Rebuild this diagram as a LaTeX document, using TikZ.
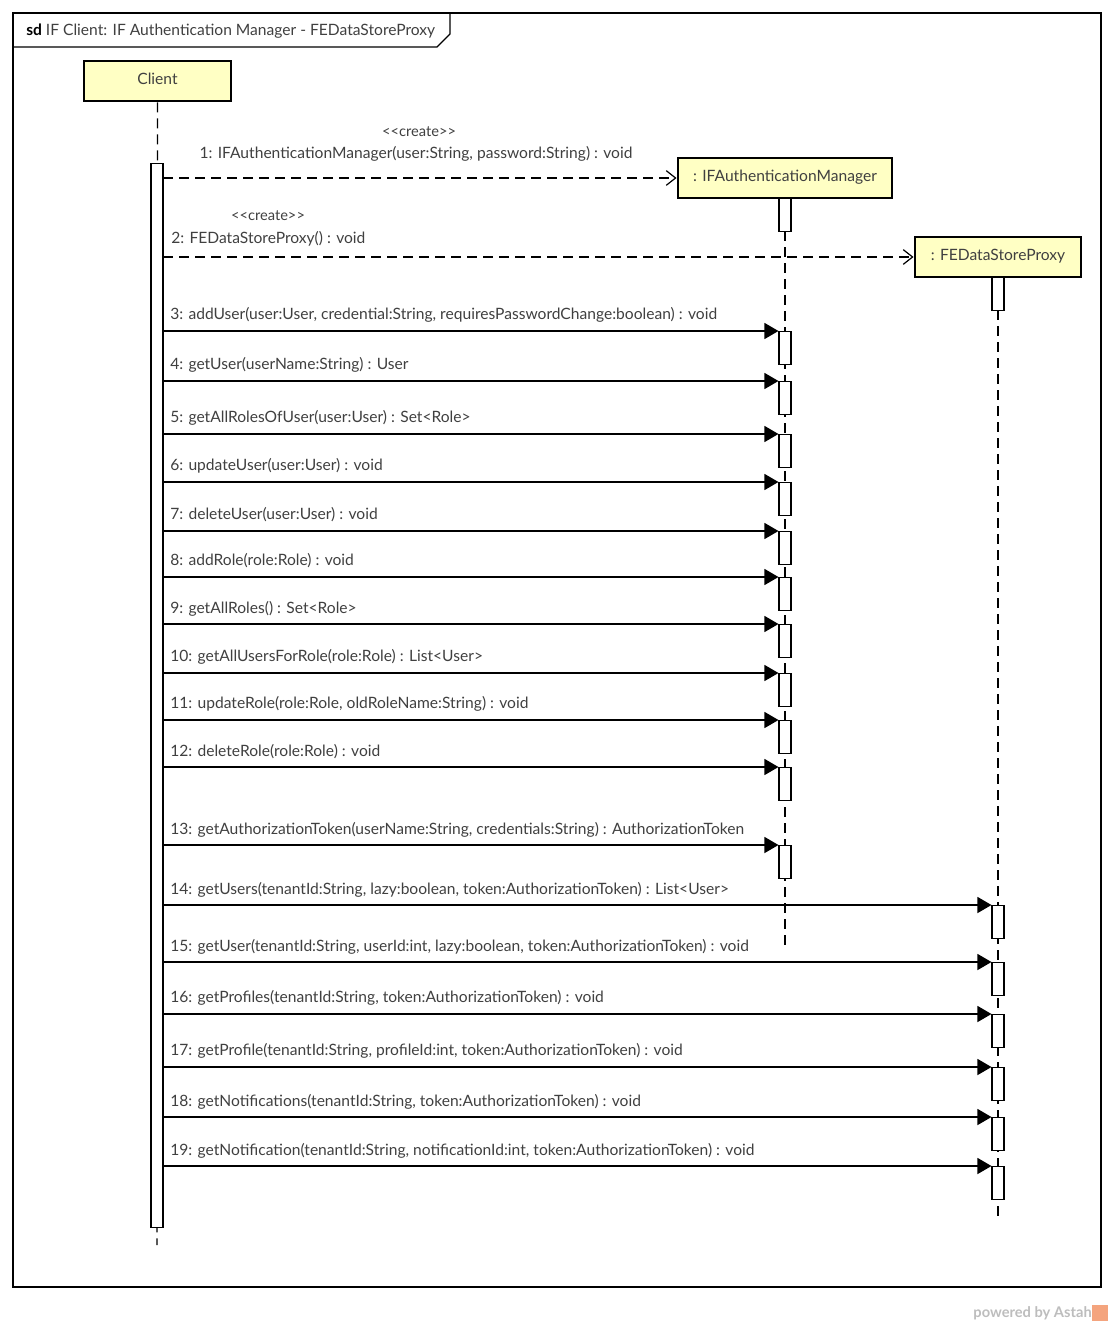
\documentclass[tikz,border=0pt]{standalone}
\usepackage{fontspec}
\setmainfont{Lato}
\usetikzlibrary{arrows.meta}
\definecolor{sdYellow}{HTML}{FFFFC4}
\definecolor{sdText}{HTML}{404040}
\definecolor{sdGray}{HTML}{BDBDBD}
\definecolor{astahOrange}{HTML}{F4A47E}
\newcommand{\lt}{\textless\kern0pt}
\newcommand{\gt}{\textgreater\kern0pt}
\tikzset{
  lifebox/.style={rectangle,draw=black,line width=2.2pt,fill=sdYellow,
    minimum height=30pt,inner sep=0pt,font=\fontsize{11.7}{14}\selectfont,text=sdText},
  actbar/.style={rectangle,draw=black,fill=white,line width=0.8pt,
    minimum width=9pt,minimum height=24.75pt,inner sep=0pt,anchor=north},
  lifeline/.style={line width=0.8pt,dash pattern=on 7.5pt off 4.5pt},
  call/.style={line width=0.9pt,-{Triangle[length=10.5pt,width=12pt]}},
  create/.style={line width=0.9pt,dash pattern=on 7.5pt off 4.5pt,
    -{Straight Barb[length=7pt,width=11pt]}},
  msglabel/.style={anchor=west,inner sep=0pt,font=\fontsize{11.7}{14}\selectfont,text=sdText},
  stereo/.style={inner sep=0pt,font=\fontsize{11}{13}\selectfont,text=sdText}
}

\begin{document}
\begin{tikzpicture}[x=0.75pt,y=-0.75pt]
\useasboundingbox[fill=white] (0,0) rectangle (1114,1326);

% frame and title
\draw[line width=1.1pt] (13,13) rectangle (1101,1287);
\draw[line width=1pt] (13,47) -- (437,47) -- (450,34) -- (450,13);
\node[msglabel] (title) at (26,31) {\textbf{\color{black}sd} IF Client: IF Authentication Manager - FEDataStoreProxy};

% participants
\node[lifebox, minimum width=110.25pt, text depth=3pt] (client) at (157.5,81) {Client};
\node[lifebox, minimum width=160.5pt, text depth=3pt] (iam) at (785,178) {: IFAuthenticationManager};
\node[lifebox, minimum width=124.5pt, text depth=3pt] (fds) at (998,257) {: FEDataStoreProxy};

% lifelines
\coordinate (clientEnd) at (157,1245);
\coordinate (iamEnd) at (785,945);
\coordinate (fdsEnd) at (998,1220);
\draw[lifeline] (client.south) -- (clientEnd);
\draw[lifeline] (iam.south) -- (iamEnd);
\draw[lifeline] (fds.south) -- (fdsEnd);

% activations
\node[actbar, minimum height=798pt] (a0) at (157,163) {};
\node[actbar] (m0) at (785,198) {};
\node[actbar] (p0) at (998,277) {};
\node[actbar] (a3) at (785,331) {};
\node[actbar] (a4) at (785,381) {};
\node[actbar] (a5) at (785,434) {};
\node[actbar] (a6) at (785,482) {};
\node[actbar] (a7) at (785,531) {};
\node[actbar] (a8) at (785,577) {};
\node[actbar] (a9) at (785,624) {};
\node[actbar] (a10) at (785,673) {};
\node[actbar] (a11) at (785,720) {};
\node[actbar] (a12) at (785,767) {};
\node[actbar] (a13) at (785,845) {};
\node[actbar] (a14) at (998,905) {};
\node[actbar] (a15) at (998,962) {};
\node[actbar] (a16) at (998,1014) {};
\node[actbar] (a17) at (998,1067) {};
\node[actbar] (a18) at (998,1117) {};
\node[actbar] (a19) at (998,1166) {};

% create messages
\coordinate (c1) at (163,178);
\coordinate (c2) at (163,257);
\draw[create] (c1) -- (iam.west);
\draw[create] (c2) -- (fds.west);
\node[stereo] (s1) at (419,132) {\lt\lt create\gt\gt};
\node[stereo] (s2) at (268,216) {\lt\lt create\gt\gt};
\node[msglabel, anchor=center] (l1) at (416,154) {1: IFAuthenticationManager(user:String, password:String) : void};
\node[msglabel] (l2) at (171,239) {2: FEDataStoreProxy() : void};

% calls
\coordinate (c3) at (163,331);
\coordinate (c4) at (163,381);
\coordinate (c5) at (163,434);
\coordinate (c6) at (163,482);
\coordinate (c7) at (163,531);
\coordinate (c8) at (163,577);
\coordinate (c9) at (163,624);
\coordinate (c10) at (163,673);
\coordinate (c11) at (163,720);
\coordinate (c12) at (163,767);
\coordinate (c13) at (163,845);
\coordinate (c14) at (163,905);
\coordinate (c15) at (163,962);
\coordinate (c16) at (163,1014);
\coordinate (c17) at (163,1067);
\coordinate (c18) at (163,1117);
\coordinate (c19) at (163,1166);
\draw[call] (c3) -- (a3.north west);
\draw[call] (c4) -- (a4.north west);
\draw[call] (c5) -- (a5.north west);
\draw[call] (c6) -- (a6.north west);
\draw[call] (c7) -- (a7.north west);
\draw[call] (c8) -- (a8.north west);
\draw[call] (c9) -- (a9.north west);
\draw[call] (c10) -- (a10.north west);
\draw[call] (c11) -- (a11.north west);
\draw[call] (c12) -- (a12.north west);
\draw[call] (c13) -- (a13.north west);
\draw[call] (c14) -- (a14.north west);
\draw[call] (c15) -- (a15.north west);
\draw[call] (c16) -- (a16.north west);
\draw[call] (c17) -- (a17.north west);
\draw[call] (c18) -- (a18.north west);
\draw[call] (c19) -- (a19.north west);

\node[msglabel] (l3) at (170,315) {3: addUser(user:User, credential:String, requiresPasswordChange:boolean) : void};
\node[msglabel] (l4) at (170,365) {4: getUser(userName:String) : User};
\node[msglabel] (l5) at (170,418) {5: getAllRolesOfUser(user:User) : Set\lt Role\gt};
\node[msglabel] (l6) at (170,466) {6: updateUser(user:User) : void};
\node[msglabel] (l7) at (170,515) {7: deleteUser(user:User) : void};
\node[msglabel] (l8) at (170,561) {8: addRole(role:Role) : void};
\node[msglabel] (l9) at (170,609) {9: getAllRoles() : Set\lt Role\gt};
\node[msglabel] (l10) at (170,657) {10: getAllUsersForRole(role:Role) : List\lt User\gt};
\node[msglabel] (l11) at (170,704) {11: updateRole(role:Role, oldRoleName:String) : void};
\node[msglabel] (l12) at (170,752) {12: deleteRole(role:Role) : void};
\node[msglabel] (l13) at (170,830) {13: getAuthorizationToken(userName:String, credentials:String) : AuthorizationToken};
\node[msglabel] (l14) at (170,890) {14: getUsers(tenantId:String, lazy:boolean, token:AuthorizationToken) : List\lt User\gt};
\node[msglabel] (l15) at (170,947) {15: getUser(tenantId:String, userId:int, lazy:boolean, token:AuthorizationToken) : void};
\node[msglabel] (l16) at (170,998) {16: getProfiles(tenantId:String, token:AuthorizationToken) : void};
\node[msglabel] (l17) at (170,1051) {17: getProfile(tenantId:String, profileId:int, token:AuthorizationToken) : void};
\node[msglabel] (l18) at (170,1102) {18: getNotifications(tenantId:String, token:AuthorizationToken) : void};
\node[msglabel] (l19) at (170,1151) {19: getNotification(tenantId:String, notificationId:int, token:AuthorizationToken) : void};

% footer
\node[anchor=east, inner sep=0pt, text=sdGray, font=\bfseries\fontsize{11}{13}\selectfont] (powered) at (1092,1313) {powered by Astah};
\node[anchor=west, inner sep=0pt, fill=astahOrange, minimum width=12pt, minimum height=12pt] (logo) at (powered.east) {};
\end{tikzpicture}
\end{document}
